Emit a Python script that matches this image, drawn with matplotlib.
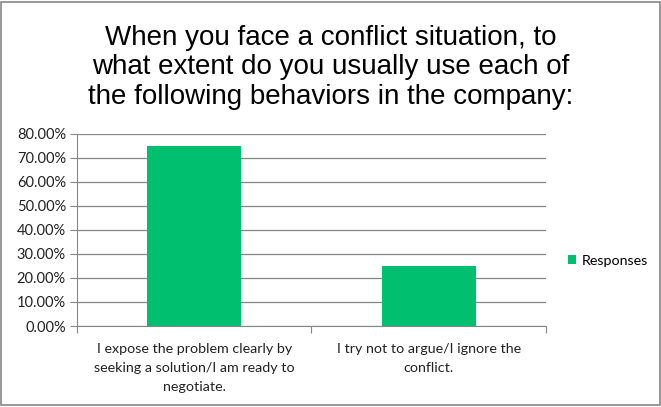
import matplotlib.pyplot as plt
from matplotlib.patches import Rectangle
from matplotlib.ticker import FixedLocator, PercentFormatter

# データ
categories = ["I expose the problem clearly by\nseeking a solution/I am ready to\nnegotiate.",
              "I try not to argue/I ignore the\nconflict."]
responses = [75.0, 25.0]
title = "When you face a conflict situation, to\nwhat extent do you usually use each of\nthe following behaviors in the company:"

bar_color = "#00BF6F"
axis_color = "#868686"
label_font = "Lato"

fig = plt.figure(figsize=(6.61, 4.07), dpi=100)
fig.patches.append(Rectangle((0.002, 0.004), 0.996, 0.992, transform=fig.transFigure,
                             fill=False, edgecolor=axis_color, linewidth=1.2))

ax = fig.add_axes([0.1165, 0.199, 0.7095, 0.472])
x = list(range(len(categories)))
ax.bar(x, responses, width=0.4, color=bar_color, label="Responses", zorder=3)

ax.set_xlim(-0.5, len(categories) - 0.5)
ax.set_ylim(0, 80)
ax.set_yticks(range(0, 81, 10))
ax.yaxis.set_major_formatter(PercentFormatter(decimals=2))
ax.grid(axis="y", color=axis_color, linewidth=0.9, zorder=0)

# カテゴリ境界の目盛り
ax.xaxis.set_major_locator(FixedLocator([-0.5, 0.5, 1.5]))
ax.xaxis.set_major_formatter(plt.NullFormatter())
ax.set_xticks(x, categories, minor=True)
ax.tick_params(axis="x", which="minor", length=0, pad=12, labelsize=10.3)
ax.tick_params(axis="x", which="major", length=5, color=axis_color)
ax.tick_params(axis="y", length=5, color=axis_color, labelsize=10.5, pad=3)
for lbl in ax.get_xticklabels(minor=True) + ax.get_yticklabels():
    lbl.set_fontfamily(label_font)
    lbl.set_color("#222222")
for lbl in ax.get_xticklabels(minor=True):
    lbl.set_linespacing(1.7)

for side in ["top", "right"]:
    ax.spines[side].set_visible(False)
for side in ["left", "bottom"]:
    ax.spines[side].set_color(axis_color)

fig.text(0.5, 0.835, title, ha="center", va="center", fontsize=20,
         family="Liberation Sans", linespacing=1.17)

leg = ax.legend(loc="center left", bbox_to_anchor=(1.02, 0.34), frameon=False,
                handlelength=0.55, handleheight=0.55, handletextpad=0.4,
                prop={"family": label_font, "size": 10.3})

fig.savefig("out.png", dpi=100)
